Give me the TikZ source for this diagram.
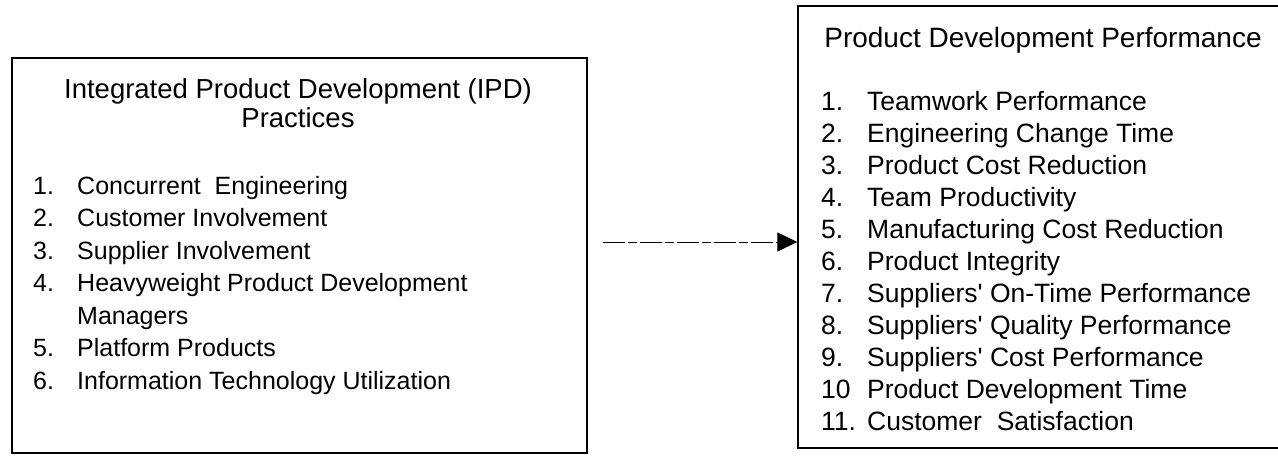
\documentclass[tikz,border=0pt]{standalone}
\usepackage{fontspec}
\setmainfont{Liberation Sans}[Ligatures=TeXOff]
\usetikzlibrary{arrows.meta}
\begin{document}
\begin{tikzpicture}[x=1pt,y=-1pt,
  box/.style={draw, line width=1.3pt, inner sep=0pt},
  ltxt/.style={anchor=base west, inner sep=0pt, font=\fontsize{25}{30}\selectfont},
  rtxt/.style={anchor=base west, inner sep=0pt, font=\fontsize{26.5}{31}\selectfont},
  lttl/.style={anchor=base, inner sep=0pt, font=\fontsize{27.5}{32}\selectfont},
  rttl/.style={anchor=base, inner sep=0pt, font=\fontsize{28}{33}\selectfont},
  conn/.style={line width=1pt, dash pattern=on 22pt off 3pt on 9pt off 3pt, -{Triangle[length=20pt,width=19pt]}}
]
\useasboundingbox (0,0) rectangle (1278,456);
% boxes
\node[box, minimum width=575pt, minimum height=395pt] (L) at (299.5,255.5) {};
\node[box, minimum width=492pt, minimum height=442pt] (R) at (1044,227) {};
% left box text
\node[lttl] (lt1) at (298,98) {Integrated Product Development (IPD)};
\node[lttl] (lt2) at (298,127) {Practices};
\foreach \n/\t [count=\i] in {1./Concurrent\ \ Engineering, 2./Customer Involvement, 3./Supplier Involvement, 4./Heavyweight Product Development, /Managers, 5./Platform Products, 6./Information Technology Utilization}{
  \node[ltxt] (ln\i) at (33,{194+32.5*(\i-1)}) {\n};
  \node[ltxt] (li\i) at (77,{194+32.5*(\i-1)}) {\t};
}
% right box text
\node[rttl] (rt) at (1043,47) {Product Development Performance};
\foreach \n/\t [count=\i] in {1./Teamwork Performance, 2./Engineering Change Time, 3./Product Cost Reduction, 4./Team Productivity, 5./Manufacturing Cost Reduction, 6./Product Integrity, 7./Suppliers' On-Time Performance, 8./Suppliers' Quality Performance, 9./Suppliers' Cost Performance, 10/Product Development Time, 11./Customer\ \ Satisfaction}{
  \node[rtxt] (rn\i) at (821,{110+32*(\i-1)}) {\n};
  \node[rtxt] (ri\i) at (867,{110+32*(\i-1)}) {\t};
}
% connector
\coordinate (as) at (603,242);
\draw[conn] (as) -- (as -| R.west);
\end{tikzpicture}
\end{document}
